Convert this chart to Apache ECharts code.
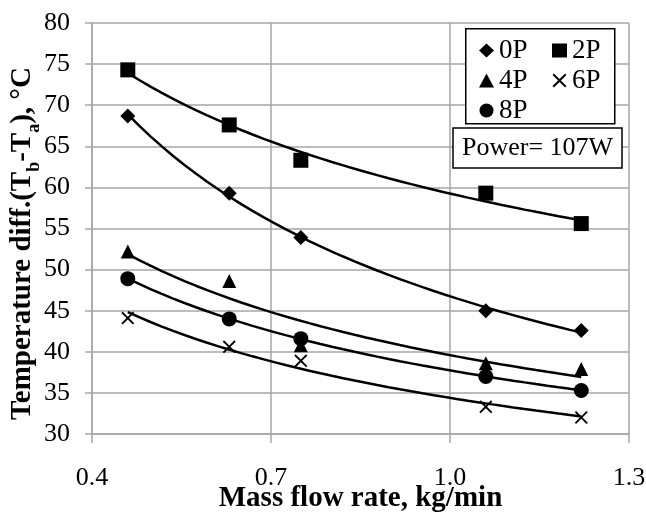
<!DOCTYPE html>
<html>
<head>
<meta charset="utf-8">
<script src="https://cdn.jsdelivr.net/npm/echarts@6/dist/echarts.min.js"></script>
<style>
  html, body { margin: 0; padding: 0; background: #fff; }
  #chart { width: 646px; height: 512px; }
</style>
</head>
<body>
<div id="chart"></div>
<script>
// mass flow rate (kg/min)
const flowRates = [0.46, 0.63, 0.75, 1.06, 1.22];
// temperature difference per configuration (°C)
const p0 = [68.7, 59.3, 53.9, 45.0, 42.6];
const p2 = [74.3, 67.6, 63.3, 59.3, 55.6];
const p4 = [52.2, 48.6, 40.8, 38.6, 37.9];
const p6 = [44.1, 40.6, 38.9, 33.3, 32.0];
const p8 = [48.9, 44.0, 41.6, 37.0, 35.3];
const xTicks = [0.4, 0.7, 1.0, 1.3];

const FONT = "'Liberation Serif', 'Times New Roman', serif";
const GRID_COLOR = '#a6a6a6';
const X_SHAPE = 'path://M0,1L1,0L5,4L9,0L10,1L6,5L10,9L9,10L5,6L1,10L0,9L4,5Z';

// power-law trendline (least squares in log space), like Excel's
function powerTrend(xs, ys) {
  const n = xs.length;
  let sx = 0, sy = 0, sxx = 0, sxy = 0;
  for (let i = 0; i < n; i++) {
    const lx = Math.log(xs[i]), ly = Math.log(ys[i]);
    sx += lx; sy += ly; sxx += lx * lx; sxy += lx * ly;
  }
  const b = (n * sxy - sx * sy) / (n * sxx - sx * sx);
  const a = Math.exp((sy - b * sx) / n);
  const pts = [];
  const x0 = xs[0], x1 = xs[n - 1];
  for (let k = 0; k <= 40; k++) {
    const x = x0 + (x1 - x0) * k / 40;
    pts.push([x, a * Math.pow(x, b)]);
  }
  return pts;
}

const groups = [
  { name: '0P', ys: p0, symbol: 'diamond', size: 15 },
  { name: '2P', ys: p2, symbol: 'rect', size: 15 },
  { name: '4P', ys: p4, symbol: 'triangle', size: 14 },
  { name: '6P', ys: p6, symbol: X_SHAPE, size: 13 },
  { name: '8P', ys: p8, symbol: 'circle', size: 15 }
];

const series = [];
groups.forEach(g => {
  series.push({
    type: 'line',
    name: g.name + ' trend',
    data: powerTrend(flowRates, g.ys),
    showSymbol: false,
    symbol: 'none',
    lineStyle: { color: '#000', width: 2.5 },
    z: 2,
    silent: true
  });
  series.push({
    type: 'scatter',
    name: g.name,
    data: flowRates.map((x, i) => [x, g.ys[i]]),
    symbol: g.symbol,
    symbolSize: g.size,
    itemStyle: { color: '#000', opacity: 1 },
    z: 3
  });
});

const legendCommon = {
  orient: 'vertical',
  top: 37,
  itemGap: 3,
  itemWidth: 15,
  itemHeight: 14,
  padding: 0,
  textStyle: { fontFamily: FONT, fontSize: 27, color: '#000' },
  z: 5
};

const chart = echarts.init(document.getElementById('chart'));
chart.setOption({
  backgroundColor: '#fff',
  animation: false,
  grid: { left: 92, right: 17, top: 23, bottom: 78, containLabel: false, outerBoundsMode: 'none' },
  title: {
    text: 'Power= 107W',
    left: 453,
    top: 128,
    padding: [6, 9],
    borderColor: '#000',
    borderWidth: 1.5,
    backgroundColor: '#fff',
    textStyle: { fontFamily: FONT, fontSize: 26, fontWeight: 'normal', color: '#000', lineHeight: 28 },
    z: 5
  },
  legend: [
    Object.assign({ left: 479, data: ['0P', '4P', '8P'] }, legendCommon),
    Object.assign({ left: 552, data: ['2P', '6P'] }, legendCommon)
  ],
  graphic: [{
    type: 'rect',
    left: 465,
    top: 28,
    shape: { width: 149, height: 95 },
    style: { fill: '#fff', stroke: '#000', lineWidth: 1.5 },
    z: 4
  }],
  xAxis: {
    type: 'value',
    min: xTicks[0],
    max: xTicks[xTicks.length - 1],
    interval: 0.3,
    name: 'Mass flow rate, kg/min',
    nameLocation: 'middle',
    nameGap: 50,
    nameMoveOverlap: false,
    nameTextStyle: { fontFamily: FONT, fontSize: 29, fontWeight: 'bold', color: '#000' },
    axisLine: { lineStyle: { color: GRID_COLOR, width: 1.5 } },
    axisTick: { show: true, length: 9, lineStyle: { color: GRID_COLOR, width: 1.5 } },
    splitLine: { show: true, lineStyle: { color: GRID_COLOR, width: 1.5 } },
    axisLabel: {
      fontFamily: FONT, fontSize: 26, color: '#000', margin: 31,
      formatter: v => v.toFixed(1)
    }
  },
  yAxis: {
    type: 'value',
    min: 30,
    max: 80,
    interval: 5,
    name: '{t|Temperature diff.(T}{s|b}{t|-T}{s|a}{t|), °C}',
    nameLocation: 'middle',
    nameGap: 49,
    nameMoveOverlap: false,
    nameTextStyle: {
      fontFamily: FONT, fontSize: 29, fontWeight: 'bold', color: '#000',
      padding: [0, 30, 0, 0],
      rich: {
        t: { fontFamily: FONT, fontSize: 29, fontWeight: 'bold', color: '#000', lineHeight: 40 },
        s: { fontFamily: FONT, fontSize: 18, fontWeight: 'bold', color: '#000', lineHeight: 18, verticalAlign: 'bottom' }
      }
    },
    axisLine: { show: true, lineStyle: { color: GRID_COLOR, width: 1.5 } },
    axisTick: { show: true, length: 7, lineStyle: { color: GRID_COLOR, width: 1.5 } },
    splitLine: { show: true, lineStyle: { color: GRID_COLOR, width: 1.5 } },
    axisLabel: { fontFamily: FONT, fontSize: 26, color: '#000', margin: 22 }
  },
  series: series
});
</script>
</body>
</html>
